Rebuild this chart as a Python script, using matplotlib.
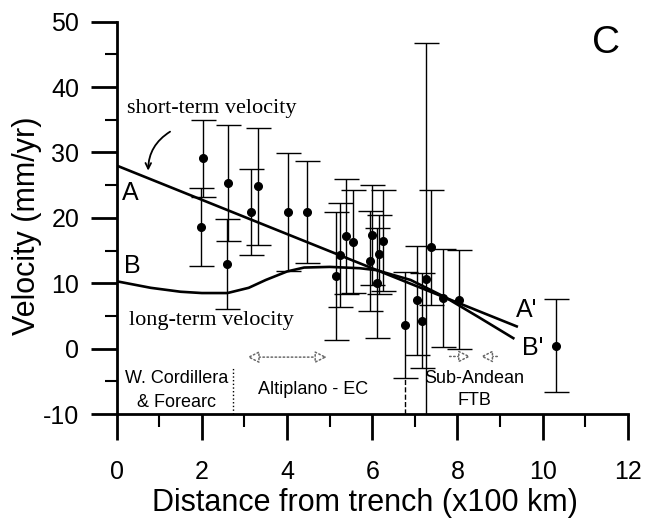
import matplotlib
matplotlib.use("Agg")
import numpy as np
from matplotlib import pyplot as plt
from matplotlib.ticker import MultipleLocator

plt.rcParams['font.family'] = ['Liberation Sans', 'DejaVu Sans']
plt.rcParams['axes.unicode_minus'] = False
NARROW = ['Liberation Sans Narrow', 'Liberation Sans', 'DejaVu Sans']
SERIF = ['Liberation Serif', 'DejaVu Serif']

# GPS sites: distance (x100 km), velocity (mm/yr), 1-sigma error
site_x = [1.97, 2.03, 2.60, 2.62, 3.15, 3.32, 4.03, 4.47,
          5.16, 5.24, 5.38, 5.55, 5.95, 5.99, 6.12, 6.16, 6.26,
          6.77, 7.06, 7.16, 7.25, 7.39, 7.67, 8.03, 10.31]
site_v = [18.6, 29.1, 13.0, 25.3, 20.9, 24.8, 20.9, 20.9,
          11.1, 14.3, 17.2, 16.35, 13.4, 17.4, 10.1, 14.4, 16.5,
          3.6, 7.4, 4.3, 10.6, 15.5, 7.7, 7.5, 0.45]
site_err = [6.0, 5.9, 6.9, 8.9, 6.6, 9.0, 9.0, 7.8,
            9.8, 7.9, 8.8, 7.9, 7.6, 7.6, 8.4, 6.0, 7.7,
            8.1, 8.3, 7.3, 36.2, 8.8, 7.5, 7.6, 7.1]

# model profiles
short_x = [0.0, 9.39]
short_v = [28.0, 3.4]
long_x = [0.0, 0.8, 1.5, 2.0, 2.6, 3.1, 3.5, 4.0, 4.4, 5.0, 5.7, 6.1, 6.9, 7.7, 8.5, 9.31]
long_v = [10.3, 9.3, 8.7, 8.5, 8.5, 9.3, 10.5, 11.8, 12.4, 12.5, 12.3, 12.0, 10.5, 7.9, 4.8, 1.6]

zone_bounds = [2.74, 6.77]

fig = plt.figure(figsize=(6.48, 5.23), dpi=100)
ax = fig.add_axes([0.180, 0.2084, 0.789, 0.7501])

ax.errorbar(site_x, site_v, yerr=site_err, fmt='o', color='black', ms=5.5,
            elinewidth=1.0, capsize=9, capthick=1.0, zorder=3)
ax.plot(short_x, short_v, color='black', lw=1.9, zorder=4)
ax.plot(long_x, long_v, color='black', lw=1.9, zorder=4)

# labels on the curves
ax.text(0.31, 23.8, 'A', fontsize=18, ha='center', va='center')
ax.text(0.36, 12.6, 'B', fontsize=18, ha='center', va='center')
ax.text(9.63, 5.9, "A'", fontsize=18, ha='center', va='center')
ax.text(9.77, 0.1, "B'", fontsize=18, ha='center', va='center')
ax.text(0.25, 36.8, 'short-term velocity', fontsize=16, family=SERIF, va='center')
ax.text(0.30, 4.3, 'long-term velocity', fontsize=16, family=SERIF, va='center')
ax.annotate('', xy=(0.74, 26.8), xytext=(1.31, 33.4),
            arrowprops=dict(arrowstyle='->', lw=1.3, color='black',
                            connectionstyle='arc3,rad=0.3'))
ax.text(11.48, 46.8, 'C', fontsize=28, ha='center', va='center')

# morphotectonic zones
ax.text(1.4, -4.5, 'W. Cordillera', fontsize=13, family=NARROW, ha='center', va='center')
ax.text(1.4, -8.3, '& Forearc', fontsize=13, family=NARROW, ha='center', va='center')
ax.text(4.6, -6.3, 'Altiplano - EC', fontsize=13, family=NARROW, ha='center', va='center')
ax.text(8.4, -4.5, 'Sub-Andean', fontsize=13, family=NARROW, ha='center', va='center')
ax.text(8.4, -8.0, 'FTB', fontsize=13, family=NARROW, ha='center', va='center')
ax.vlines(zone_bounds[0], -10, -3, colors='black', lw=1, linestyles=':')
ax.vlines(zone_bounds[1], -10, -4.5, colors='black', lw=1, linestyles='--')
arrow_kw = dict(lw=1.1, ls=':', color='dimgray', fc='white', mutation_scale=18)
ax.annotate('', xy=(3.0, -1.3), xytext=(5.0, -1.3),
            arrowprops=dict(arrowstyle='<|-|>', **arrow_kw))
ax.annotate('', xy=(8.37, -1.2), xytext=(7.75, -1.2),
            arrowprops=dict(arrowstyle='-|>', **arrow_kw))
ax.annotate('', xy=(8.48, -1.2), xytext=(9.0, -1.2),
            arrowprops=dict(arrowstyle='-|>', **arrow_kw))

ax.set_xlim(0, 12)
ax.set_ylim(-10, 50)
ax.xaxis.set_major_locator(MultipleLocator(2))
ax.xaxis.set_minor_locator(MultipleLocator(1))
ax.yaxis.set_major_locator(MultipleLocator(10))
ax.yaxis.set_minor_locator(MultipleLocator(5))
for s in ['top', 'right']:
    ax.spines[s].set_visible(False)
for s in ['left', 'bottom']:
    ax.spines[s].set_linewidth(2)
ax.tick_params(which='major', length=19, width=2, direction='out')
ax.tick_params(which='minor', length=9, width=1.5, direction='out')
ax.tick_params(axis='x', which='major', pad=14)
ax.tick_params(axis='y', which='major', pad=8)
for lab in ax.get_xticklabels() + ax.get_yticklabels():
    lab.set_fontsize(18)
    lab.set_family(NARROW)

ax.set_xlabel('Distance from trench (x100 km)', fontsize=22)
ax.set_ylabel('Velocity (mm/yr)', fontsize=22)
ax.xaxis.set_label_coords(0.486, -0.189)
ax.yaxis.set_label_coords(-0.146, 0.48)

fig.savefig('out.png', dpi=100)
